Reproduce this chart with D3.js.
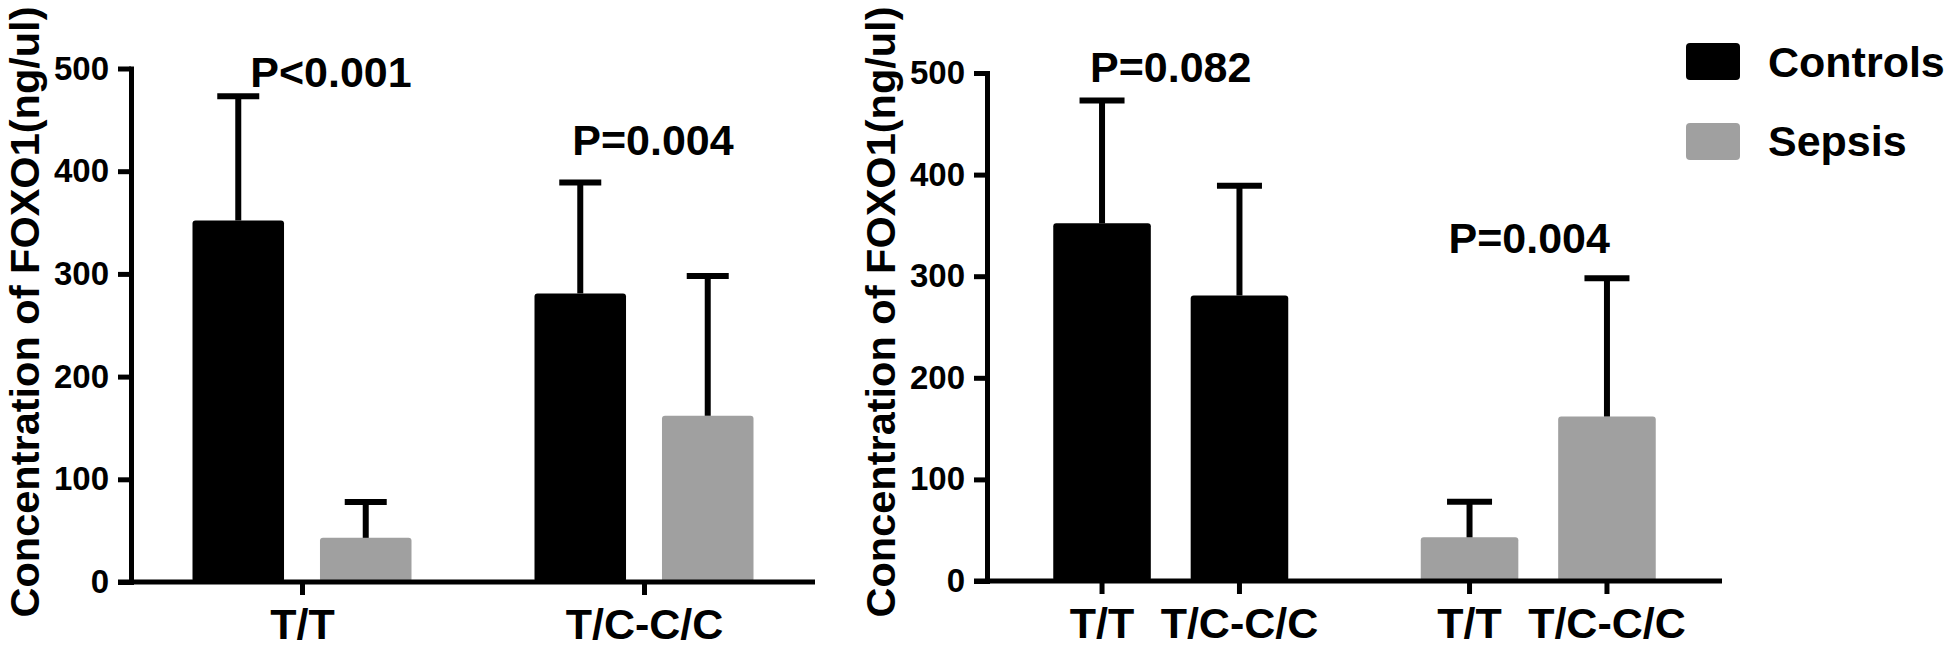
<!DOCTYPE html>
<html>
<head>
<meta charset="utf-8">
<script src="https://cdn.jsdelivr.net/npm/d3@7"></script>
<style>
  html, body { margin: 0; padding: 0; background: #fff; }
  svg { display: block; }
  text { font-family: "Liberation Sans", Arial, sans-serif; font-weight: bold; fill: #000; }
</style>
</head>
<body>
<script>
// ---- data ----
const categories = ["T/T", "T/C-C/C"];
const series = ["Controls", "Sepsis"];
const controlsMean = [352, 281];
const controlsSD = [121, 108];
const sepsisMean = [43, 162];
const sepsisSD = [35, 136];
const yTicks = [0, 100, 200, 300, 400, 500];
const pLabelsLeft = ["P<0.001", "P=0.004"];
const pLabelsRight = ["P=0.082", "P=0.004"];
const yTitle = "Concentration of FOXO1(ng/ul)";

const colors = { Controls: "#000000", Sepsis: "#a0a0a0" };

const W = 1946, H = 650;
const svg = d3.select("body").append("svg").attr("width", W).attr("height", H);

const records = [];
categories.forEach((c, i) => {
  records.push({ cat: c, ser: "Controls", mean: controlsMean[i], sd: controlsSD[i] });
  records.push({ cat: c, ser: "Sepsis", mean: sepsisMean[i], sd: sepsisSD[i] });
});

function panel(opts) {
  const g = svg.append("g");
  const y = d3.scaleLinear().domain([0, 500]).range([opts.y0, opts.y500]);
  const xOuter = d3.scalePoint().domain(opts.outer).range([opts.xStart, opts.xEnd]).padding(0.5);
  const xInner = d3.scaleBand().domain(opts.inner).range([-opts.half, opts.half]).paddingInner(opts.pad);
  const bw = xInner.bandwidth();
  const x = d => xOuter(d[opts.outerKey]) + xInner(d[opts.innerKey]);
  const cx = d => x(d) + bw / 2;

  // bars
  g.selectAll("rect.bar").data(records).join("rect")
    .attr("class", "bar")
    .attr("x", x).attr("y", d => y(d.mean))
    .attr("width", bw).attr("height", d => y(0) - y(d.mean))
    .attr("rx", 3).attr("fill", d => colors[d.ser]);

  // error bars (upper only)
  g.selectAll("line.err").data(records).join("line")
    .attr("class", "err")
    .attr("x1", cx).attr("x2", cx)
    .attr("y1", d => y(d.mean)).attr("y2", d => y(d.mean + d.sd))
    .attr("stroke", "#000").attr("stroke-width", 6);
  g.selectAll("line.cap").data(records).join("line")
    .attr("class", "cap")
    .attr("x1", d => cx(d) - opts.cap / 2).attr("x2", d => cx(d) + opts.cap / 2)
    .attr("y1", d => y(d.mean + d.sd)).attr("y2", d => y(d.mean + d.sd))
    .attr("stroke", "#000").attr("stroke-width", 6);

  // y axis
  const ya = g.append("g").attr("transform", `translate(${opts.xStart},0)`)
    .call(d3.axisLeft(y).tickValues(yTicks).tickSize(13).tickSizeOuter(0).tickPadding(9));
  ya.select(".domain").attr("stroke-width", 5).attr("stroke-linecap", "square");
  ya.selectAll(".tick line").attr("stroke-width", 5);
  ya.selectAll(".tick text").attr("font-size", 33).attr("font-family", null).attr("fill", "#000");

  // x axis
  const xa = g.append("g").attr("transform", `translate(0,${opts.y0})`);
  if (opts.tickPerBar) {
    xa.call(d3.axisBottom(xOuter).tickSize(0).tickSizeOuter(0).tickFormat(""));
    xa.selectAll(".tick").remove();
    xa.selectAll("line.bt").data(records).join("line")
      .attr("class", "bt")
      .attr("x1", cx).attr("x2", cx).attr("y1", 0).attr("y2", 13)
      .attr("stroke", "#000").attr("stroke-width", 5);
    xa.selectAll("text.bt").data(records).join("text")
      .attr("class", "bt")
      .attr("x", cx).attr("y", 26).attr("dy", "0.71em")
      .attr("text-anchor", "middle").attr("font-size", 43)
      .text(d => d.cat);
  } else {
    xa.call(d3.axisBottom(xOuter).tickSize(13).tickSizeOuter(0).tickPadding(13));
    xa.selectAll(".tick line").attr("stroke-width", 5);
    xa.selectAll(".tick text").attr("font-size", 43).attr("font-family", null).attr("fill", "#000");
  }
  xa.select(".domain").attr("stroke-width", 5)
    .attr("d", `M${opts.xStart - 13},0H${opts.xEnd}`);

  // y title
  g.append("text")
    .attr("transform", `translate(${opts.xStart - 92},312) rotate(-90)`)
    .attr("text-anchor", "middle")
    .attr("font-size", 41.5)
    .text(yTitle);

  // P labels
  opts.pLabels.forEach((t, i) => {
    g.append("text")
      .attr("x", xOuter(opts.outer[i]) + opts.pDx[i])
      .attr("y", opts.pY[i])
      .attr("text-anchor", "middle").attr("font-size", 43).text(t);
  });

  return { g, y, xOuter, xInner };
}

// Left panel: grouped by genotype
panel({
  outer: categories, inner: series, outerKey: "cat", innerKey: "ser",
  xStart: 131, xEnd: 815, y0: 582, y500: 68.5, half: 109.5, pad: 0.282, cap: 42,
  pLabels: pLabelsLeft, pDx: [29, 9], pY: [87, 155]
});
// Right panel: grouped by subject group, genotype labels under each bar
panel({
  outer: series, inner: categories, outerKey: "ser", innerKey: "cat", tickPerBar: true,
  xStart: 987, xEnd: 1722, y0: 581, y500: 73, half: 117.5, pad: 0.29, cap: 45,
  pLabels: pLabelsRight, pDx: [0, -9], pY: [82, 253]
});

// legend
const leg = svg.append("g");
series.forEach((s, i) => {
  leg.append("rect").attr("x", 1686).attr("y", 43 + i * 80).attr("width", 54).attr("height", 37)
    .attr("rx", 4).attr("fill", colors[s]);
  leg.append("text").attr("x", 1768).attr("y", 77 + i * 79).attr("font-size", 43).text(s);
});
</script>
</body>
</html>
